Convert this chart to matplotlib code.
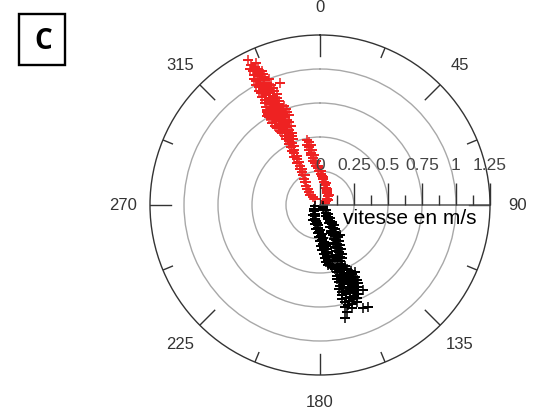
import numpy as np
import matplotlib
matplotlib.use('Agg')
import matplotlib.pyplot as plt
from matplotlib.patches import Rectangle

plt.rcParams['font.family'] = ['Liberation Sans', 'DejaVu Sans']

# compass directions (deg, clockwise from north) and speed axis
compass_angles = [0, 45, 90, 135, 180, 225, 270, 315]
compass_labels = ['0', '45', '90', '135', '180', '225', '270', '315']
speed_ticks = [0, 0.25, 0.5, 0.75, 1.0, 1.25]
speed_labels = ['0', '0.25', '0.5', '0.75', '1', '1.25']
speed_grid = [0.25, 0.5, 0.75, 1.0]
speed_max = 1.25
axis_title = 'vitesse en m/s'
panel_letter = 'C'

# red series: (direction deg, speed m/s)
red_points = [
  # main branch, outer part
  (333.2, 0.500), (335.9, 0.500), (334.1, 0.523), (337.3, 0.523),
  (332.6, 0.548), (335.4, 0.548), (338.2, 0.548),
  (333.3, 0.571), (336.4, 0.571), (339.0, 0.571),
  (332.1, 0.597), (335.0, 0.597), (337.8, 0.597),
  (331.4, 0.622), (334.2, 0.622), (337.1, 0.622), (339.8, 0.622),
  (330.8, 0.648), (333.9, 0.648), (336.6, 0.648), (339.6, 0.648),
  (330.2, 0.671), (333.1, 0.671), (335.8, 0.671), (338.7, 0.671),
  (329.8, 0.697), (332.7, 0.697), (335.5, 0.697), (338.4, 0.697), (341.0, 0.697),
  (330.3, 0.724), (333.0, 0.724), (335.2, 0.724), (337.9, 0.724), (340.6, 0.724),
  (329.6, 0.748), (332.2, 0.748), (334.9, 0.748), (337.6, 0.748), (340.2, 0.748),
  (330.1, 0.773), (332.8, 0.773), (335.3, 0.773), (337.2, 0.773), (339.7, 0.773),
  (330.9, 0.802), (333.2, 0.802), (335.8, 0.802), (338.1, 0.802),
  (331.2, 0.826), (333.7, 0.826), (336.0, 0.826), (338.4, 0.826),
  (331.8, 0.851), (334.0, 0.851), (336.3, 0.851), (338.2, 0.851),
  (332.3, 0.874), (334.4, 0.874), (336.5, 0.874), (338.6, 0.874),
  (331.7, 0.903), (333.8, 0.903), (335.9, 0.903), (337.9, 0.903),
  (332.2, 0.927), (334.3, 0.927), (336.2, 0.927), (338.3, 0.927),
  (331.9, 0.952), (333.9, 0.952), (336.0, 0.952), (338.0, 0.952),
  (332.4, 0.976), (334.5, 0.976), (336.6, 0.976),
  (332.0, 1.001), (334.1, 1.001), (336.2, 1.001), (338.1, 1.001),
  (332.5, 1.026), (334.6, 1.026), (336.5, 1.026),
  (332.3, 1.049), (334.4, 1.049), (336.3, 1.049),
  (333.1, 1.074), (335.0, 1.074), (336.8, 1.074),
  (333.4, 1.098), (335.3, 1.098), (332.9, 1.122), (334.9, 1.122),
  (333.8, 1.148), (335.6, 1.148), (333.6, 1.188),
  (341.8, 0.942), (330.3, 0.790), (328.9, 0.760),
  # main branch, inner part
  (333.6, 0.476), (336.1, 0.472), (332.4, 0.452), (335.0, 0.447),
  (333.7, 0.426), (332.1, 0.402), (334.6, 0.398), (333.0, 0.376),
  (331.6, 0.352), (334.2, 0.349), (332.6, 0.327), (331.1, 0.302),
  (333.7, 0.298), (332.0, 0.276), (330.2, 0.252), (332.7, 0.248),
  (329.1, 0.226), (326.2, 0.203), (329.3, 0.198), (324.0, 0.176),
  (321.0, 0.152), (324.3, 0.148), (318.2, 0.126), (314.1, 0.102),
  (318.4, 0.098), (316.0, 0.077), (320.0, 0.056),
  # second branch
  (348.5, 0.490), (350.1, 0.470), (348.0, 0.451), (351.2, 0.449),
  (349.6, 0.430), (348.6, 0.411), (351.6, 0.408), (350.4, 0.390),
  (350.0, 0.371), (353.1, 0.368), (352.0, 0.350), (351.1, 0.331),
  (354.6, 0.328), (353.6, 0.310), (354.0, 0.291), (357.6, 0.288),
  (356.5, 0.270), (358.1, 0.251), (2.0, 0.248), (1.0, 0.230),
  (3.2, 0.211), (7.1, 0.208), (6.0, 0.190), (9.2, 0.171),
  (14.0, 0.168), (15.2, 0.150), (19.1, 0.131), (25.0, 0.128),
  (28.2, 0.115), (33.0, 0.101), (40.1, 0.098), (42.0, 0.085),
  (50.2, 0.071), (55.0, 0.068), (60.1, 0.055), (68.0, 0.040),
]

# black series: (direction deg, speed m/s)
black_points = [
  # left branch
  (255.0, 0.035), (236.0, 0.050), (221.0, 0.062), (212.0, 0.076),
  (204.5, 0.091), (218.0, 0.089), (199.5, 0.106), (194.8, 0.121),
  (205.3, 0.118), (190.2, 0.135), (186.1, 0.151), (195.8, 0.148),
  (184.2, 0.166), (180.3, 0.181), (189.1, 0.178), (181.2, 0.196),
  (177.0, 0.211), (184.8, 0.208), (178.1, 0.226), (175.2, 0.241),
  (182.1, 0.238), (176.0, 0.256), (173.1, 0.271), (179.8, 0.268),
  (175.0, 0.286), (172.2, 0.301), (178.1, 0.298), (174.1, 0.316),
  (171.0, 0.331), (176.9, 0.328), (173.0, 0.346), (170.2, 0.361),
  (175.8, 0.358), (172.1, 0.376), (169.1, 0.391), (174.9, 0.388),
  (171.2, 0.406), (168.4, 0.421), (174.0, 0.418), (171.0, 0.436),
  (168.0, 0.451), (172.9, 0.448),
  # right branch
  (110.0, 0.020), (134.8, 0.036), (140.2, 0.051), (127.9, 0.060),
  (142.1, 0.076), (137.8, 0.091), (150.2, 0.089), (145.1, 0.106),
  (141.0, 0.121), (151.2, 0.118), (147.0, 0.136), (144.1, 0.151),
  (154.0, 0.148), (149.1, 0.166), (146.0, 0.181), (155.2, 0.178),
  (151.0, 0.196), (148.2, 0.211), (156.1, 0.208), (152.0, 0.226),
  (159.3, 0.222), (150.1, 0.241), (157.0, 0.238), (146.2, 0.262),
  (153.6, 0.256), (151.1, 0.271), (158.0, 0.268), (155.0, 0.286),
  (152.4, 0.301), (159.1, 0.298), (162.0, 0.302), (156.0, 0.316),
  (154.1, 0.331), (160.0, 0.328), (157.1, 0.346), (155.0, 0.361),
  (161.1, 0.358), (158.0, 0.376), (156.1, 0.391), (162.0, 0.388),
  (159.0, 0.406), (157.2, 0.421), (163.0, 0.418), (160.1, 0.436),
  # dense cluster
  (160.2, 0.461), (163.1, 0.461), (165.9, 0.461), (168.8, 0.461),
  (158.1, 0.486), (161.0, 0.486), (163.9, 0.486), (166.8, 0.486),
  (157.0, 0.509), (159.9, 0.509), (162.8, 0.509), (165.7, 0.509),
  (155.2, 0.536), (158.1, 0.536), (161.0, 0.536), (163.9, 0.536), (166.8, 0.536),
  (154.9, 0.559), (157.8, 0.559), (160.9, 0.559), (164.1, 0.559), (167.0, 0.559),
  (154.1, 0.586), (157.0, 0.586), (159.9, 0.586), (162.9, 0.586), (165.9, 0.586),
  (153.9, 0.611), (156.9, 0.611), (160.1, 0.611), (163.0, 0.611), (166.1, 0.611),
  (155.0, 0.634), (158.0, 0.634), (161.1, 0.634), (164.0, 0.634), (167.0, 0.634),
  (155.1, 0.661), (157.9, 0.661), (160.6, 0.661), (163.1, 0.661), (165.9, 0.661),
  (156.0, 0.684), (158.6, 0.684), (161.0, 0.684), (163.6, 0.684), (166.1, 0.684),
  (157.1, 0.711), (159.4, 0.711), (162.0, 0.711), (164.6, 0.711), (167.0, 0.711),
  (158.0, 0.736), (160.5, 0.736), (163.1, 0.736), (165.4, 0.736),
  (159.1, 0.762), (162.0, 0.762), (164.4, 0.762),
  # scattered
  (154.0, 0.638), (153.2, 0.700), (152.4, 0.552), (166.2, 0.770),
  (162.9, 0.792), (157.3, 0.820), (154.8, 0.829), (166.0, 0.809),
  (167.6, 0.853),
]

red_dir, red_speed = np.array(red_points).T
black_dir, black_speed = np.array(black_points).T

fig = plt.figure(figsize=(5.4, 4.16), dpi=100)
ax = fig.add_axes((150/540, 41/416, 340/540, 340/416), projection='polar')
ax.set_theta_zero_location('N')
ax.set_theta_direction(-1)
ax.set_ylim(0, speed_max)

# rings
ax.set_yticks(speed_grid)
ax.set_yticklabels([])
ax.tick_params(axis='y', length=0)
ax.yaxis.grid(True, color='#a8a8a8', lw=1.0)
ax.xaxis.grid(False)
ax.set_xticks([])
ax.spines['polar'].set_color('#333333')
ax.spines['polar'].set_linewidth(1.0)

# compass ticks pointing inwards from the rim, long every 45, short between
for a in compass_angles:
  t = np.deg2rad(a)
  ax.plot([t, t], [speed_max - 0.155, speed_max], color='#333333', lw=1.0)
  t2 = np.deg2rad(a + 22.5)
  ax.plot([t2, t2], [speed_max - 0.075, speed_max], color='#333333', lw=1.0)
for a, lab in zip(compass_angles, compass_labels):
  ax.text(np.deg2rad(a), 1.45, lab, ha='center', va='center', fontsize=12, color='#333333')

# data
ax.plot(np.deg2rad(red_dir), red_speed, ls='none', marker='+', ms=7, mew=1.1, color='#ee2222')
ax.plot(np.deg2rad(black_dir), black_speed, ls='none', marker='+', ms=7, mew=1.1, color='black')

# speed axis drawn along 90 deg
east = np.pi/2
ax.plot([east, east], [0, speed_max], color='#555555', lw=1.1, clip_on=False)
ax.plot(np.full(len(speed_ticks), east), speed_ticks, ls='none', marker=2, ms=15.5, mew=1.0,
        color='#333333', clip_on=False)
minor_r = np.array(speed_ticks[:-1]) + 0.125
ax.plot(np.full(len(minor_r), east), minor_r, ls='none', marker=2, ms=7.5, mew=1.0,
        color='#333333', clip_on=False)
for r, lab in zip(speed_ticks, speed_labels):
  ax.annotate(lab, (east, r), xytext=(0, 35), textcoords='offset pixels',
              ha='center', va='baseline', fontsize=12.5, color='#444444')
ax.annotate(axis_title, (east, 0.662), xytext=(0, -19), textcoords='offset pixels',
            ha='center', va='baseline', fontsize=15, color='black')

# panel letter in a box
fig.add_artist(Rectangle((19.2/540, (416-65)/416), 46.3/540, 51.2/416,
                         transform=fig.transFigure, fill=False, lw=1.7, color='black'))
fig.text(43/540, 1-41.7/416, panel_letter, ha='center', va='center', fontsize=20,
         fontweight='bold', family=['Open Sans', 'DejaVu Sans'])

fig.savefig('out.png', dpi=100)
